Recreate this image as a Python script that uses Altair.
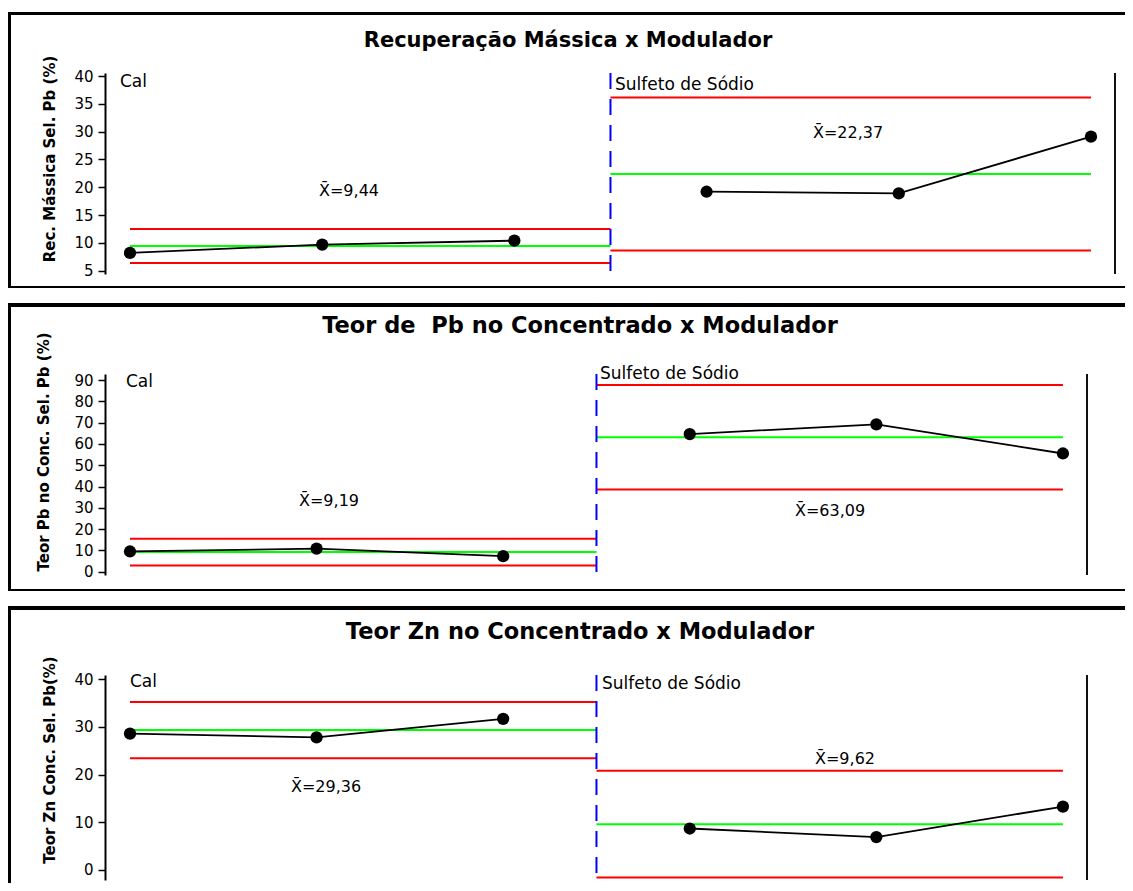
import altair as alt
import pandas as pd

# ---------------- data ----------------
obs = [1, 2, 3, 4, 5, 6]
stage_names = ["Cal", "Sulfeto de Sódio"]
stage_of_obs = ["Cal", "Cal", "Cal", "Sulfeto de Sódio", "Sulfeto de Sódio", "Sulfeto de Sódio"]
stage_start = [1.0, 3.5]
stage_end = [3.5, 6.0]
stage_change = [3.5]

rec_values = [8.2, 9.7, 10.4, 19.2, 18.9, 29.1]
rec_mean = [9.44, 22.37]
rec_ucl = [12.50, 36.12]
rec_lcl = [6.38, 8.62]

pb_values = [9.5, 10.8, 7.3, 64.6, 69.2, 55.5]
pb_mean = [9.19, 63.09]
pb_ucl = [15.49, 87.64]
pb_lcl = [2.89, 38.54]

zn_values = [28.6, 27.8, 31.7, 8.7, 6.9, 13.3]
zn_mean = [29.36, 9.62]
zn_ucl = [35.26, 20.82]
zn_lcl = [23.46, -1.58]

titles = [
    "Recuperação Mássica x Modulador",
    "Teor de\u00a0 Pb no Concentrado x Modulador",
    "Teor Zn no Concentrado x Modulador",
]
y_titles = [
    "Rec. Mássica Sel. Pb (%)",
    "Teor Pb no Conc. Sel. Pb (%)",
    "Teor Zn Conc. Sel. Pb(%)",
]
ticks_rec = [5, 10, 15, 20, 25, 30, 35, 40]
ticks_pb = [0, 10, 20, 30, 40, 50, 60, 70, 80, 90]
ticks_zn = [0, 10, 20, 30, 40]

FONT = "DejaVu Sans"
one = pd.DataFrame({"k": [0]})
RIGHT = 1020   # frame right end, relative to the plot-area left edge
BOTTOM = 810   # page bottom, relative to the first plot-area top


def mean_label(m):
    return "X\u0304=" + f"{m:.2f}".replace(".", ",")


def vtext(txt, x, y, size=16, bold=False, align="left", angle=0, baseline="alphabetic"):
    return alt.Chart(one).mark_text(
        text=txt, font=FONT, fontSize=size, fontWeight="bold" if bold else "normal",
        align=align, baseline=baseline, angle=angle, color="#000",
    ).encode(x=alt.value(x), y=alt.value(y))


def bar(x, x2, y, y2, opacity=1.0):
    return alt.Chart(one).mark_rect(color="black", opacity=opacity).encode(
        x=alt.value(x), x2=alt.value(x2), y=alt.value(y), y2=alt.value(y2)
    )


def panel(values, means, ucls, lcls, ticks, title, ytitle, lay):
    W, H = lay["W"], lay["H"]
    xs = alt.Scale(domain=lay["xdom"], nice=False, zero=False)
    ys = alt.Scale(domain=lay["ydom"], nice=False, zero=False)
    yaxis = alt.Axis(values=ticks, title=None, format="d")

    pts = pd.DataFrame({"obs": obs, "v": values, "stage": stage_of_obs})
    rows = []
    for s in range(2):
        for kind, arr in (("UCL", ucls), ("Média", means), ("LCL", lcls)):
            rows.append({"x0": stage_start[s], "x1": stage_end[s], "v": arr[s], "kind": kind, "stage": stage_names[s]})
    lims = pd.DataFrame(rows)
    chg = pd.DataFrame({"xs": stage_change})

    layers = []
    if lay.get("pin"):
        layers.append(bar(-97, RIGHT, -65, BOTTOM, opacity=0))
    fr = lay["frame"]
    layers.append(bar(-97, RIGHT, fr["top"][0], fr["top"][1]))
    layers.append(bar(-97, -94, fr["top"][0], fr["bottom"]))
    if "bottom_bar" in fr:
        layers.append(bar(-97, RIGHT, fr["bottom_bar"][0], fr["bottom_bar"][1]))

    limit_rules = alt.Chart(lims).mark_rule(strokeWidth=2).encode(
        x=alt.X("x0:Q", scale=xs, axis=None),
        x2="x1:Q",
        y=alt.Y("v:Q", scale=ys, axis=yaxis),
        color=alt.Color("kind:N", scale=alt.Scale(domain=["UCL", "Média", "LCL"],
                                                  range=["#FF0000", "#00FF00", "#FF0000"]), legend=None),
    )
    blue = alt.Chart(chg).mark_rule(color="#0000FF", strokeWidth=2, strokeDash=[16, 10]).encode(
        x=alt.X("xs:Q", scale=xs, axis=None), y=alt.value(0), y2=alt.value(H)
    )
    right = alt.Chart(one).mark_rule(color="#111", strokeWidth=2).encode(
        x=alt.value(W), y=alt.value(0), y2=alt.value(H)
    )
    line = alt.Chart(pts).mark_line(color="#000", strokeWidth=1.8).encode(
        x=alt.X("obs:Q", scale=xs, axis=None), y=alt.Y("v:Q", scale=ys, axis=yaxis), detail="stage:N"
    )
    dots = alt.Chart(pts).mark_point(filled=True, color="#000", size=150, opacity=1).encode(
        x=alt.X("obs:Q", scale=xs, axis=None), y=alt.Y("v:Q", scale=ys, axis=yaxis)
    )
    layers += [limit_rules, blue, right, line, dots]

    lb = lay["labels"]
    layers.append(vtext(title, lb["title"][0], lb["title"][1], size=lay["tsize"], bold=True, align="center"))
    layers.append(vtext(ytitle, lb["ytitle"][0], lb["ytitle"][1], size=15, bold=True, align="center",
                        angle=270, baseline="middle"))
    layers.append(vtext(stage_names[0], lb["cal"][0], lb["cal"][1], size=17))
    layers.append(vtext(stage_names[1], lb["sulf"][0], lb["sulf"][1], size=17))
    layers.append(vtext(mean_label(means[0]), lb["m0"][0], lb["m0"][1], align="center"))
    layers.append(vtext(mean_label(means[1]), lb["m1"][0], lb["m1"][1], align="center"))

    return alt.layer(*layers).properties(width=W, height=H)


lay1 = dict(W=1010, H=201, xdom=[0.870, 6.125], ydom=[4.41, 40.54], pin=True, tsize=21,
            frame=dict(top=(-61, -58), bottom=215, bottom_bar=(213, 215)),
            labels=dict(title=(463, -26), ytitle=(-55, 86), cal=(15, 14), sulf=(510, 17),
                        m0=(244, 123), m1=(743, 65)))
lay2 = dict(W=982, H=201, xdom=[0.866, 6.129], ydom=[-1.55, 92.82], tsize=22.5,
            frame=dict(top=(-71, -67), bottom=217, bottom_bar=(215, 217)),
            labels=dict(title=(475, -41), ytitle=(-61, 78), cal=(21, 13), sulf=(495, 5),
                        m0=(224, 132), m1=(725, 142)))
lay3 = dict(W=982, H=205, xdom=[0.866, 6.129], ydom=[-2.10, 40.9], tsize=22.5,
            frame=dict(top=(-69, -65), bottom=208),
            labels=dict(title=(475, -36), ytitle=(-55, 85), cal=(25, 12), sulf=(497, 14),
                        m0=(221, 117), m1=(740, 89)))

p1 = panel(rec_values, rec_mean, rec_ucl, rec_lcl, ticks_rec, titles[0], y_titles[0], lay1)
p2 = panel(pb_values, pb_mean, pb_ucl, pb_lcl, ticks_pb, titles[1], y_titles[1], lay2)
p3 = panel(zn_values, zn_mean, zn_ucl, zn_lcl, ticks_zn, titles[2], y_titles[2], lay3)

chart = alt.vconcat(p1, p2, p3, spacing=100, bounds="flush").properties(
    padding=0, background="white"
).configure_view(stroke=None).configure_axis(
    labelFont=FONT, labelFontSize=15, labelColor="#000", domainColor="#000", domainWidth=2,
    tickColor="#000", tickWidth=1.5, tickSize=7, labelPadding=5, grid=False,
)

chart.save("out.html", embed_options={"renderer": "svg", "actions": False})
